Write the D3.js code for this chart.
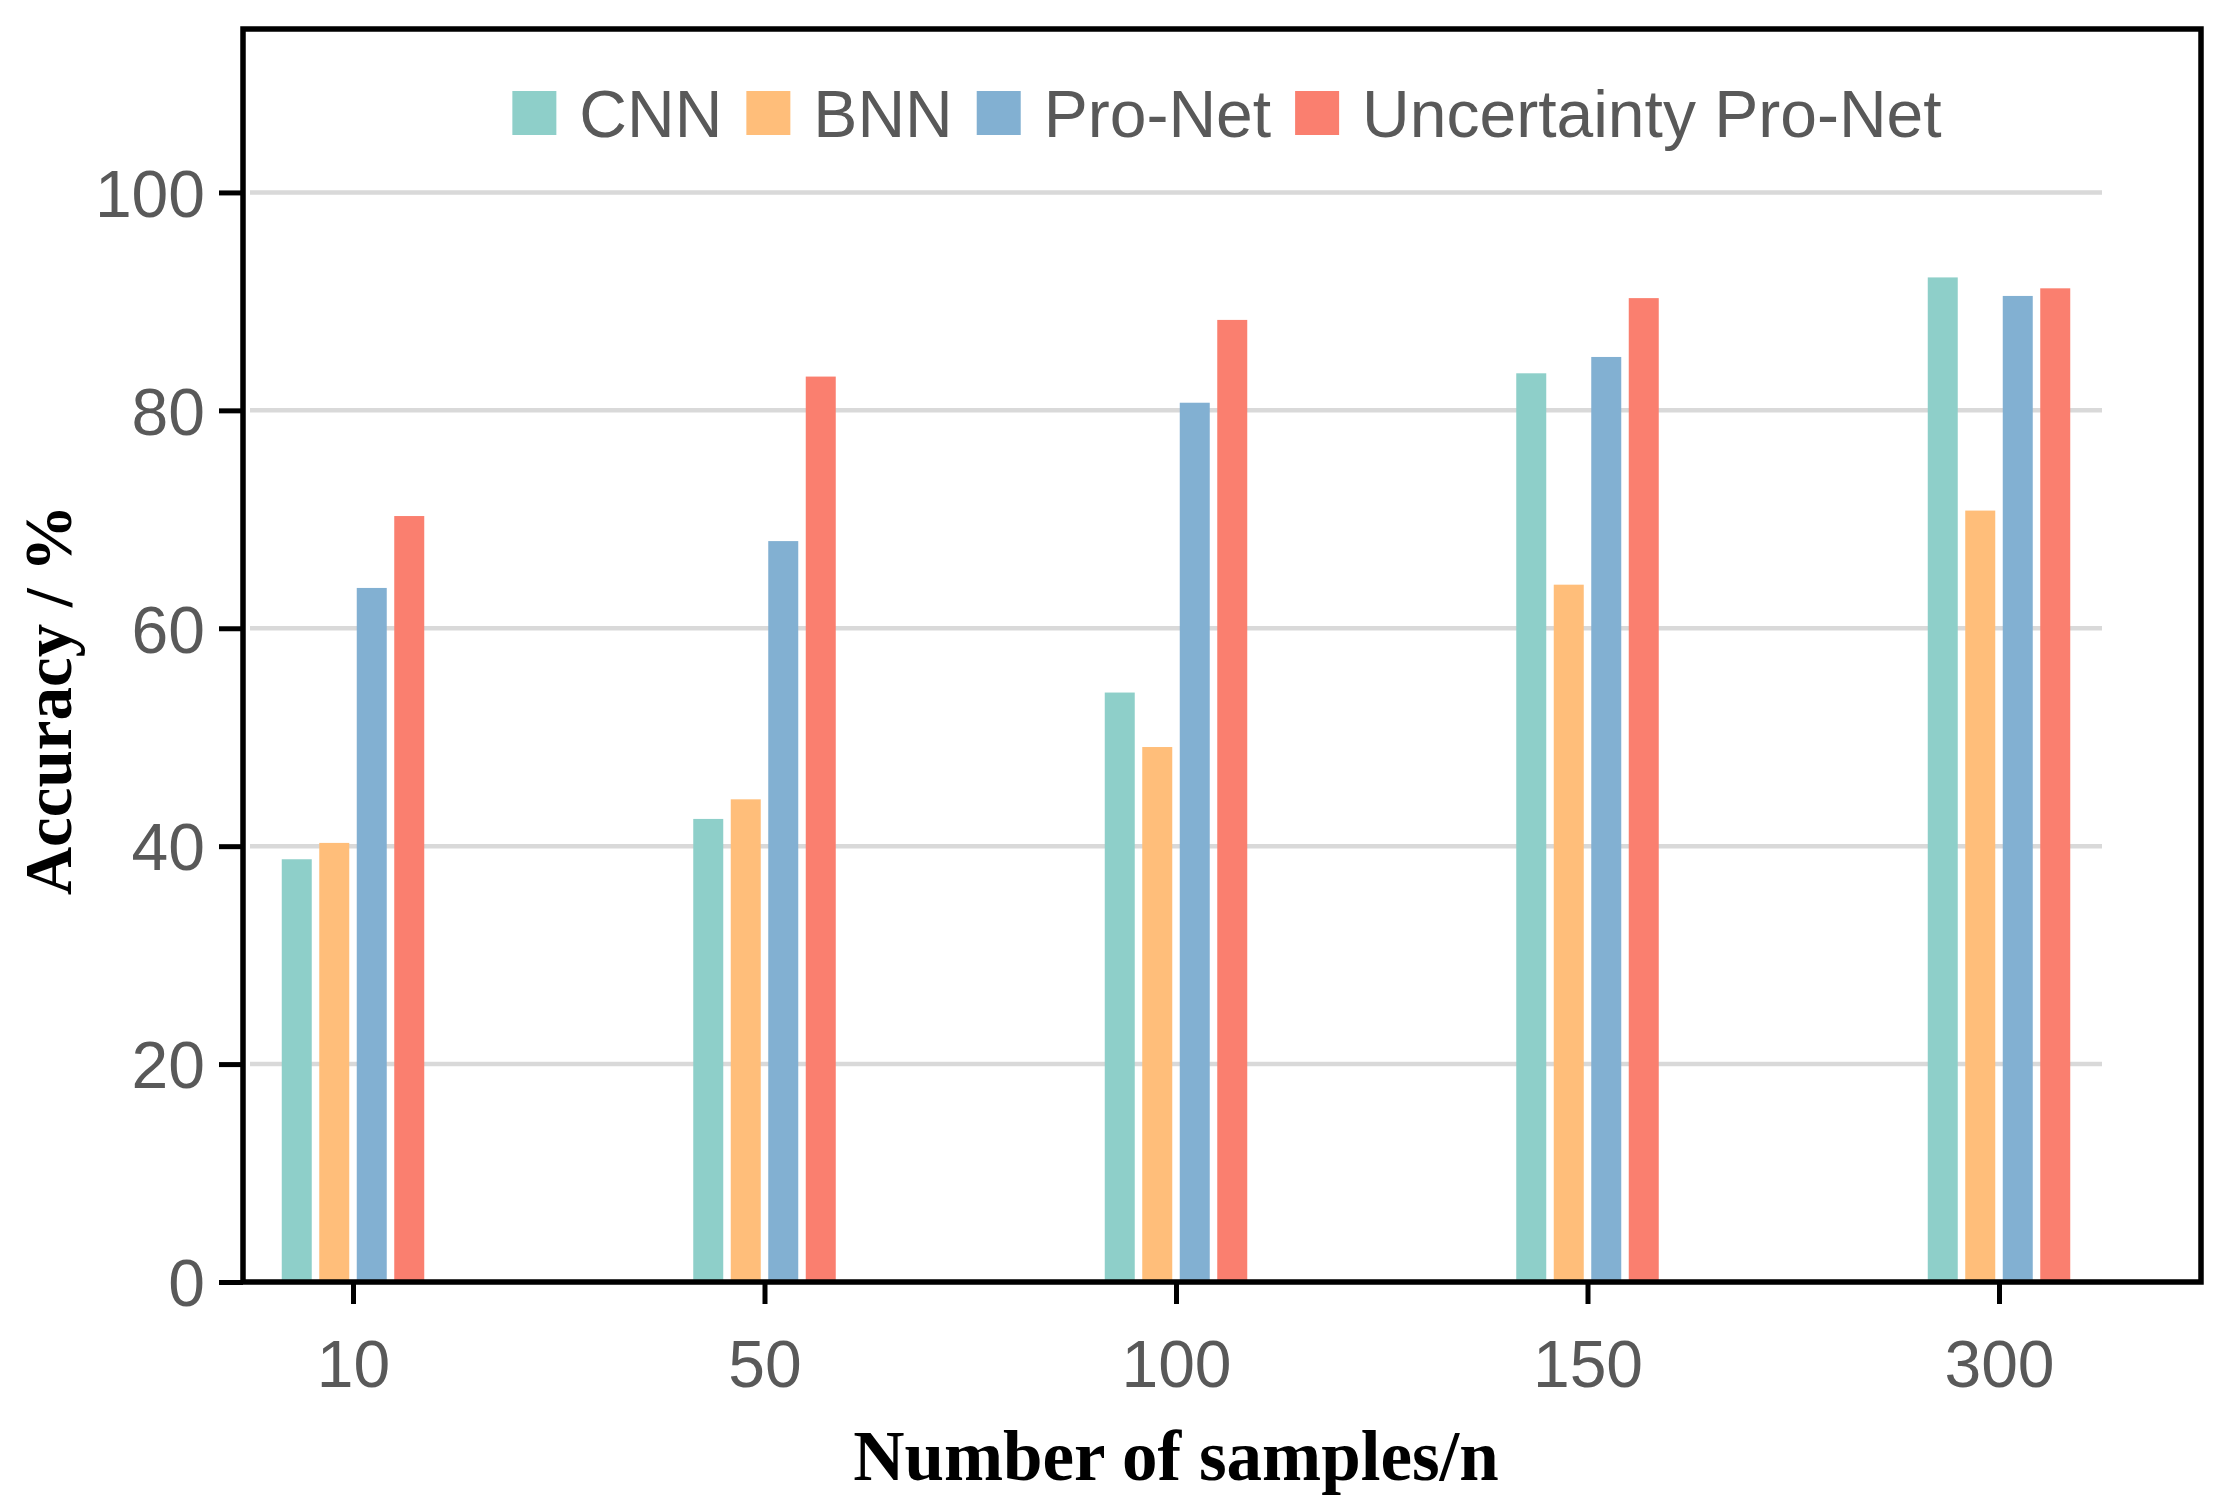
<!DOCTYPE html>
<html>
<head>
<meta charset="utf-8">
<script src="https://cdn.jsdelivr.net/npm/d3@7"></script>
<style>
  body { margin: 0; background: #fff; }
  .tick text { font-family: 'Liberation Sans', Arial, sans-serif; fill: #595959; }
</style>
</head>
<body>
<div class="chart"></div>
<script>
const categories = ['10', '50', '100', '150', '300'];
const seriesNames = ['CNN', 'BNN', 'Pro-Net', 'Uncertainty Pro-Net'];
const cnnValues = [38.8, 42.5, 54.1, 83.4, 92.2];
const bnnValues = [40.3, 44.3, 49.1, 64.0, 70.8];
const proNetValues = [63.7, 68.0, 80.7, 84.9, 90.5];
const uncertaintyValues = [70.3, 83.1, 88.3, 90.3, 91.2];
const yTicks = [0, 20, 40, 60, 80, 100];

const COLORS = ['#8ECFC9', '#FFBE7A', '#82B0D2', '#FA7F6F'];
const WIDTH = 2229;
const HEIGHT = 1507;
const FRAME = { left: 243, right: 2201, top: 29, bottom: 1282 };

const seriesValues = [cnnValues, bnnValues, proNetValues, uncertaintyValues];
const rows = [];
categories.forEach((c, i) => {
    seriesNames.forEach((s, j) => {
        rows.push({ category: c, series: s, value: seriesValues[j][i] });
    });
});

const svg = d3
    .select('.chart')
    .append('svg')
    .attr('width', WIDTH)
    .attr('height', HEIGHT);

// Scales
const xScale = d3.scalePoint().domain(categories).range([353, 1999]);
const innerScale = d3
    .scaleBand()
    .domain(seriesNames)
    .range([-71.25, 71.25])
    .paddingInner(0.2);
const yScale = d3.scaleLinear().domain([0, 115]).range([FRAME.bottom, FRAME.top]);
const colorScale = d3.scaleOrdinal().domain(seriesNames).range(COLORS);

// Grid lines
svg.append('g')
    .selectAll('line')
    .data(yTicks)
    .join('line')
    .attr('x1', 250)
    .attr('x2', 2102)
    .attr('y1', (d) => yScale(d))
    .attr('y2', (d) => yScale(d))
    .attr('stroke', '#d9d9d9')
    .attr('stroke-width', 4.5);

// Bars
svg.append('g')
    .selectAll('rect')
    .data(rows)
    .join('rect')
    .attr('x', (d) => xScale(d.category) + innerScale(d.series))
    .attr('width', innerScale.bandwidth())
    .attr('y', (d) => yScale(d.value))
    .attr('height', (d) => yScale(0) - yScale(d.value))
    .attr('fill', (d) => colorScale(d.series));

// Frame
svg.append('rect')
    .attr('x', FRAME.left)
    .attr('y', FRAME.top)
    .attr('width', FRAME.right - FRAME.left)
    .attr('height', FRAME.bottom - FRAME.top)
    .attr('fill', 'none')
    .attr('stroke', '#000')
    .attr('stroke-width', 5.5);

// Axes
const yAxis = d3.axisLeft(yScale).tickValues(yTicks).tickSize(24).tickPadding(14);
const yAxisEl = svg.append('g').attr('transform', `translate(${FRAME.left}, 0)`).call(yAxis);
yAxisEl.select('.domain').remove();
yAxisEl.selectAll('.tick line').attr('stroke', '#000').attr('stroke-width', 5);
yAxisEl.selectAll('.tick text').attr('font-size', 66).attr('dy', '0.36em');

const xAxis = d3.axisBottom(xScale).tickSize(22).tickPadding(36);
const xAxisEl = svg.append('g').attr('transform', `translate(0, ${FRAME.bottom})`).call(xAxis);
xAxisEl.select('.domain').remove();
xAxisEl.selectAll('.tick line').attr('stroke', '#000').attr('stroke-width', 5);
xAxisEl.selectAll('.tick text').attr('font-size', 66).attr('dy', '0.71em');

// Axis titles
svg.append('text')
    .attr('x', (xScale.range()[0] + xScale.range()[1]) / 2)
    .attr('y', 1480)
    .attr('text-anchor', 'middle')
    .attr('font-family', "'Liberation Serif', 'Times New Roman', serif")
    .attr('font-weight', 'bold')
    .attr('font-size', 71)
    .attr('fill', '#000')
    .text('Number of samples/n');

svg.append('text')
    .attr('transform', 'translate(71, 700) rotate(-90)')
    .attr('text-anchor', 'middle')
    .attr('font-family', "'Liberation Serif', 'Times New Roman', serif")
    .attr('font-weight', 'bold')
    .attr('font-size', 67)
    .attr('fill', '#000')
    .text('Accuracy / %');

// Legend
const legend = svg.append('g');
let cursor = 0;
seriesNames.forEach((name, i) => {
    const item = legend.append('g').attr('transform', `translate(${cursor}, 0)`);
    item.append('rect')
        .attr('x', 0)
        .attr('y', 91)
        .attr('width', 44)
        .attr('height', 44)
        .attr('fill', COLORS[i]);
    const label = item.append('text')
        .attr('x', 67)
        .attr('y', 137)
        .attr('font-family', "'Liberation Sans', Arial, sans-serif")
        .attr('font-size', 66)
        .attr('fill', '#595959')
        .text(name);
    cursor += 67 + label.node().getComputedTextLength() + 24;
});
const legendWidth = cursor - 24;
legend.attr('transform', `translate(${1227 - legendWidth / 2}, 0)`);
</script>
</body>
</html>
